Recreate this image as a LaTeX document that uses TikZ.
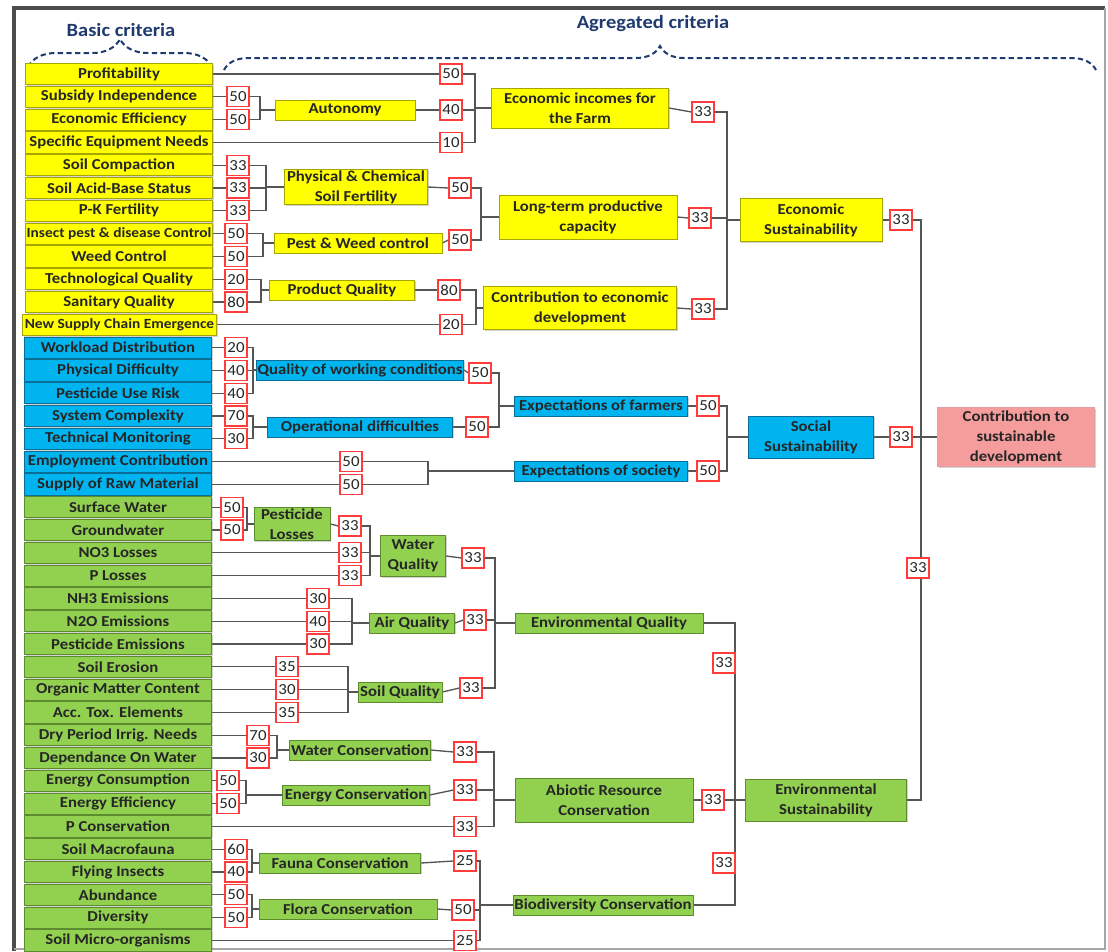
\documentclass[tikz,border=0pt]{standalone}
\usepackage{fontspec}
\setmainfont{Carlito}[FakeStretch=1.1]
\usetikzlibrary{positioning,decorations.pathreplacing,shadows,backgrounds}
\definecolor{critY}{HTML}{FFFF00}
\definecolor{critYd}{HTML}{A6A600}
\definecolor{critB}{HTML}{00B4F0}
\definecolor{critBd}{HTML}{0A6E96}
\definecolor{critG}{HTML}{92D050}
\definecolor{critGd}{HTML}{5C8C2E}
\definecolor{critP}{HTML}{F59C9C}
\definecolor{critPd}{HTML}{E2A0A0}
\definecolor{wred}{HTML}{FF3B3B}
\definecolor{linegray}{HTML}{555555}
\definecolor{navy}{HTML}{1F3A6E}
\tikzset{critbox/.style={rectangle,draw,line width=0.6pt,inner sep=1pt,minimum height=15pt,align=center,
                         font=\fontsize{11.4}{15}\selectfont\bfseries,text=black!85,
                         drop shadow={shadow xshift=1pt,shadow yshift=-1pt,opacity=0.35}},
         ybox/.style={critbox,fill=critY,draw=critYd},
         bbox/.style={critbox,fill=critB,draw=critBd},
         gbox/.style={critbox,fill=critG,draw=critGd},
         pbox/.style={critbox,fill=critP,draw=critPd},
         basic/.style={minimum width=140pt,minimum height=16pt},
         tight/.style={font=\fontsize{10.5}{15}\selectfont\bfseries},
         wt/.style={rectangle,draw=wred,fill=white,line width=0.8pt,minimum width=16.5pt,minimum height=15pt,
                    inner sep=0pt,font=\fontsize{11.5}{11.5}\selectfont,text=black!85},
         link/.style={draw=linegray,line width=1pt},
         hdr/.style={font=\fontsize{14}{16}\selectfont\bfseries,text=navy},
         hbrace/.style={draw=navy,line width=1.5pt,dash pattern=on 4pt off 2.5pt,decorate},
}
\begin{document}
\begin{tikzpicture}[x=0.75pt,y=-0.75pt]

\useasboundingbox (0,0) rectangle (1108,951);

% frame
\draw[gray!60!black,line width=2.5pt] (14,951) -- (14,8) -- (1105,8);
\draw[gray!70,line width=0.8pt] (1105,8) -- (1105,949) -- (14,949);

% headers
\node[hdr] (h_basic) at (121,30) {Basic criteria};
\node[hdr] (h_agg) at (653,24) {Agregated criteria};
\draw[hbrace,decoration={brace,amplitude=21pt}] (28,67) -- (212,67);
\draw[hbrace,decoration={brace,amplitude=18pt}] (224,70) -- (1096,70);

% basic criteria
\node[ybox,basic] (b_0) at (119,74) {Profitability};
\node[ybox,basic] (b_1) at (119,96.8) {Subsidy Independence};
\node[ybox,basic] (b_2) at (119,119.6) {Economic Efficiency};
\node[ybox,basic] (b_3) at (119,142.4) {Specific Equipment Needs};
\node[ybox,basic] (b_4) at (119,165.2) {Soil Compaction};
\node[ybox,basic] (b_5) at (119,188) {Soil Acid-Base Status};
\node[ybox,basic] (b_6) at (119,210.8) {P-K Fertility};
\node[ybox,basic,tight] (b_7) at (119,233.6) {Insect pest \& disease Control};
\node[ybox,basic] (b_8) at (119,256.4) {Weed Control};
\node[ybox,basic] (b_9) at (119,279.2) {Technological Quality};
\node[ybox,basic] (b_10) at (119,302) {Sanitary Quality};
\node[ybox,basic,tight,minimum width=146pt] (b_11) at (119.5,324.8) {New Supply Chain Emergence};
\node[bbox,basic] (b_12) at (118,347.6) {Workload Distribution};
\node[bbox,basic] (b_13) at (118,370.4) {Physical Difficulty};
\node[bbox,basic] (b_14) at (118,393.2) {Pesticide Use Risk};
\node[bbox,basic] (b_15) at (118,416) {System Complexity};
\node[bbox,basic] (b_16) at (118,438.8) {Technical Monitoring};
\node[bbox,basic] (b_17) at (118,461.6) {Employment Contribution};
\node[bbox,basic] (b_18) at (118,484.4) {Supply of Raw Material};
\node[gbox,basic] (b_19) at (118,507.2) {Surface Water};
\node[gbox,basic] (b_20) at (118,530) {Groundwater};
\node[gbox,basic] (b_21) at (118,552.8) {NO3 Losses};
\node[gbox,basic] (b_22) at (118,575.6) {P Losses};
\node[gbox,basic] (b_23) at (118,598.4) {NH3 Emissions};
\node[gbox,basic] (b_24) at (118,621.2) {N2O Emissions};
\node[gbox,basic] (b_25) at (118,644) {Pesticide Emissions};
\node[gbox,basic] (b_26) at (118,666.8) {Soil Erosion};
\node[gbox,basic] (b_27) at (118,689.6) {Organic Matter Content};
\node[gbox,basic] (b_28) at (118,712.4) {Acc. Tox. Elements};
\node[gbox,basic] (b_29) at (118,735.2) {Dry Period Irrig. Needs};
\node[gbox,basic] (b_30) at (118,758) {Dependance On Water};
\node[gbox,basic] (b_31) at (118,780.8) {Energy Consumption};
\node[gbox,basic] (b_32) at (118,803.6) {Energy Efficiency};
\node[gbox,basic] (b_33) at (118,826.4) {P Conservation};
\node[gbox,basic] (b_34) at (118,849.2) {Soil Macrofauna};
\node[gbox,basic] (b_35) at (118,872) {Flying Insects};
\node[gbox,basic] (b_36) at (118,894.8) {Abundance};
\node[gbox,basic] (b_37) at (118,917.6) {Diversity};
\node[gbox,basic] (b_38) at (118,940.4) {Soil Micro-organisms};

% weights of basic criteria
\node[wt] (wb_0) at (451,74) {50};
\node[wt] (wb_1) at (238,96.8) {50};
\node[wt] (wb_2) at (238,119.6) {50};
\node[wt] (wb_3) at (451,142.4) {10};
\node[wt] (wb_4) at (238,165.2) {33};
\node[wt] (wb_5) at (238,188) {33};
\node[wt] (wb_6) at (238,210.8) {33};
\node[wt] (wb_7) at (236,233.6) {50};
\node[wt] (wb_8) at (236,256.4) {50};
\node[wt] (wb_9) at (236,279.2) {20};
\node[wt] (wb_10) at (236,302) {80};
\node[wt] (wb_11) at (451,324.8) {20};
\node[wt] (wb_12) at (236,347.6) {20};
\node[wt] (wb_13) at (236,370.4) {40};
\node[wt] (wb_14) at (236,393.2) {40};
\node[wt] (wb_15) at (236,416) {70};
\node[wt] (wb_16) at (236,438.8) {30};
\node[wt] (wb_17) at (351,461.6) {50};
\node[wt] (wb_18) at (351,484.4) {50};
\node[wt] (wb_19) at (232,507.2) {50};
\node[wt] (wb_20) at (232,530) {50};
\node[wt] (wb_21) at (350,552.8) {33};
\node[wt] (wb_22) at (350,575.6) {33};
\node[wt] (wb_23) at (318,598.4) {30};
\node[wt] (wb_24) at (318,621.2) {40};
\node[wt] (wb_25) at (318,644) {30};
\node[wt] (wb_26) at (287,666.8) {35};
\node[wt] (wb_27) at (287,689.6) {30};
\node[wt] (wb_28) at (287,712.4) {35};
\node[wt] (wb_29) at (258,735.2) {70};
\node[wt] (wb_30) at (258,758) {30};
\node[wt] (wb_31) at (228,780.8) {50};
\node[wt] (wb_32) at (228,803.6) {50};
\node[wt] (wb_33) at (465,826.4) {33};
\node[wt] (wb_34) at (236,849.2) {60};
\node[wt] (wb_35) at (236,872) {40};
\node[wt] (wb_36) at (236,894.8) {50};
\node[wt] (wb_37) at (236,917.6) {50};
\node[wt] (wb_38) at (465,940.4) {25};

% first aggregation
\node[ybox,minimum width=105pt] (autonomy) at (345,110) {Autonomy};
\node[ybox,minimum width=107pt] (fertility) at (356,187) {Physical \& Chemical\\Soil Fertility};
\node[ybox,minimum width=126pt] (pestweed) at (358,243) {Pest \& Weed control};
\node[ybox,minimum width=109pt] (product) at (342,290) {Product Quality};
\node[bbox,minimum width=154pt] (workcond) at (360,370) {Quality of working conditions};
\node[bbox,minimum width=139pt] (operdiff) at (360,427) {Operational difficulties};
\node[gbox,minimum width=57pt] (pestloss) at (292,524) {Pesticide\\Losses};
\node[gbox,minimum width=105pt] (waterc) at (360,750) {Water Conservation};
\node[gbox,minimum width=110pt] (energyc) at (356,795) {Energy Conservation};
\node[gbox,minimum width=121pt] (fauna) at (340,863) {Fauna Conservation};
\node[gbox,minimum width=133.5pt] (flora) at (348,909) {Flora Conservation};

\node[wt] (w_autonomy) at (451,110) {40};
\node[wt] (w_fertility) at (460,188) {50};
\node[wt] (w_pestweed) at (460,240) {50};
\node[wt] (w_product) at (449,290) {80};
\node[wt] (w_workcond) at (480,373) {50};
\node[wt] (w_operdiff) at (477,427) {50};
\node[wt] (w_pestloss) at (350,526) {33};
\node[wt] (w_waterc) at (465,752) {33};
\node[wt] (w_energyc) at (465,790) {33};
\node[wt] (w_fauna) at (465,861) {25};
\node[wt] (w_flora) at (463,910) {50};

% second aggregation
\node[ybox,minimum width=133pt,minimum height=30pt] (incomes) at (580,108) {Economic incomes for\\the Farm};
\node[ybox,minimum width=133.5pt,minimum height=33pt] (longterm) at (588,217) {Long-term productive\\capacity};
\node[ybox,minimum width=145pt,minimum height=32pt] (econdev) at (580,308) {Contribution to economic\\development};
\node[bbox,minimum width=130pt] (farmers) at (601,406) {Expectations of farmers};
\node[bbox,minimum width=130pt] (society) at (601,471) {Expectations of society};
\node[gbox,minimum width=49pt,minimum height=31pt] (waterq) at (413,556) {Water\\Quality};
\node[gbox,minimum width=64pt] (airq) at (412,623) {Air Quality};
\node[gbox,minimum width=63pt] (soilq) at (400,692) {Soil Quality};
\node[gbox,minimum width=141pt] (envq) at (609,623) {Environmental Quality};
\node[gbox,minimum width=133.5pt,minimum height=33pt] (abiotic) at (604,800) {Abiotic Resource\\Conservation};
\node[gbox,minimum width=133pt] (biodiv) at (603,905) {Biodiversity Conservation};

\node[wt] (w_incomes) at (703,112) {33};
\node[wt] (w_longterm) at (700,218) {33};
\node[wt] (w_econdev) at (703,309) {33};
\node[wt] (w_farmers) at (708,406) {50};
\node[wt] (w_society) at (708,471) {50};
\node[wt] (w_waterq) at (473,558) {33};
\node[wt] (w_airq) at (475,620) {33};
\node[wt] (w_soilq) at (471,688) {33};
\node[wt] (w_envq) at (724,663) {33};
\node[wt] (w_abiotic) at (713,800) {33};
\node[wt] (w_biodiv) at (724,863) {33};

% pillars
\node[ybox,minimum width=106.5pt,minimum height=32pt] (ecos) at (811,220) {Economic\\Sustainability};
\node[bbox,minimum width=94pt,minimum height=31.5pt] (socs) at (811,437) {Social\\Sustainability};
\node[gbox,minimum width=121pt,minimum height=31.5pt] (envs) at (826,800) {Environmental\\Sustainability};
\node[wt] (w_ecos) at (901,220) {33};
\node[wt] (w_socs) at (901,437) {33};
\node[wt] (w_envs) at (918,568) {33};

\node[pbox,minimum width=118pt,minimum height=44pt] (susdev) at (1016,437) {Contribution to\\sustainable\\development};

% bracket points
\coordinate (s_autonomy) at (260,110);
\coordinate (s_fertility) at (266,187);
\coordinate (s_pestweed) at (263,243);
\coordinate (s_product) at (261,290);
\coordinate (s_workcond) at (253,370);
\coordinate (s_operdiff) at (253,427);
\coordinate (s_pestloss) at (247,524);
\coordinate (s_waterc) at (277,750);
\coordinate (s_energyc) at (246,795);
\coordinate (s_fauna) at (252,863);
\coordinate (s_flora) at (252,909);
\coordinate (s_incomes) at (475,108);
\coordinate (s_longterm) at (481,217);
\coordinate (s_econdev) at (476,308);
\coordinate (s_farmers) at (499,406);
\coordinate (s_society) at (428,471);
\coordinate (s_waterq) at (370,556);
\coordinate (s_airq) at (352,623);
\coordinate (s_soilq) at (348,692);
\coordinate (s_envq) at (495,623);
\coordinate (s_abiotic) at (494,800);
\coordinate (s_biodiv) at (480,905);
\coordinate (s_ecos) at (727,220);
\coordinate (s_socs) at (727,437);
\coordinate (s_envs) at (735,800);
\coordinate (s_susdev) at (921,437);

\begin{pgfonlayer}{background}
% basic criteria to their weights
\draw[link] (b_0.east) -- (wb_0.west);
\draw[link] (b_1.east) -- (wb_1.west);
\draw[link] (b_2.east) -- (wb_2.west);
\draw[link] (b_3.east) -- (wb_3.west);
\draw[link] (b_4.east) -- (wb_4.west);
\draw[link] (b_5.east) -- (wb_5.west);
\draw[link] (b_6.east) -- (wb_6.west);
\draw[link] (b_7.east) -- (wb_7.west);
\draw[link] (b_8.east) -- (wb_8.west);
\draw[link] (b_9.east) -- (wb_9.west);
\draw[link] (b_10.east) -- (wb_10.west);
\draw[link] (b_11.east) -- (wb_11.west);
\draw[link] (b_12.east) -- (wb_12.west);
\draw[link] (b_13.east) -- (wb_13.west);
\draw[link] (b_14.east) -- (wb_14.west);
\draw[link] (b_15.east) -- (wb_15.west);
\draw[link] (b_16.east) -- (wb_16.west);
\draw[link] (b_17.east) -- (wb_17.west);
\draw[link] (b_18.east) -- (wb_18.west);
\draw[link] (b_19.east) -- (wb_19.west);
\draw[link] (b_20.east) -- (wb_20.west);
\draw[link] (b_21.east) -- (wb_21.west);
\draw[link] (b_22.east) -- (wb_22.west);
\draw[link] (b_23.east) -- (wb_23.west);
\draw[link] (b_24.east) -- (wb_24.west);
\draw[link] (b_25.east) -- (wb_25.west);
\draw[link] (b_26.east) -- (wb_26.west);
\draw[link] (b_27.east) -- (wb_27.west);
\draw[link] (b_28.east) -- (wb_28.west);
\draw[link] (b_29.east) -- (wb_29.west);
\draw[link] (b_30.east) -- (wb_30.west);
\draw[link] (b_31.east) -- (wb_31.west);
\draw[link] (b_32.east) -- (wb_32.west);
\draw[link] (b_33.east) -- (wb_33.west);
\draw[link] (b_34.east) -- (wb_34.west);
\draw[link] (b_35.east) -- (wb_35.west);
\draw[link] (b_36.east) -- (wb_36.west);
\draw[link] (b_37.east) -- (wb_37.west);
\draw[link] (b_38.east) -- (wb_38.west);

% first aggregation
\draw[link] (wb_1.east) -| (s_autonomy) -- (autonomy.west);
\draw[link] (wb_2.east) -| (s_autonomy);
\draw[link] (wb_4.east) -| (s_fertility) -- (fertility.west);
\draw[link] (wb_5.east) -| (s_fertility);
\draw[link] (wb_6.east) -| (s_fertility);
\draw[link] (wb_7.east) -| (s_pestweed) -- (pestweed.west);
\draw[link] (wb_8.east) -| (s_pestweed);
\draw[link] (wb_9.east) -| (s_product) -- (product.west);
\draw[link] (wb_10.east) -| (s_product);
\draw[link] (wb_12.east) -| (s_workcond) -- (workcond.west);
\draw[link] (wb_13.east) -| (s_workcond);
\draw[link] (wb_14.east) -| (s_workcond);
\draw[link] (wb_15.east) -| (s_operdiff) -- (operdiff.west);
\draw[link] (wb_16.east) -| (s_operdiff);
\draw[link] (wb_19.east) -| (s_pestloss) -- (pestloss.west);
\draw[link] (wb_20.east) -| (s_pestloss);
\draw[link] (wb_29.east) -| (s_waterc) -- (waterc.west);
\draw[link] (wb_30.east) -| (s_waterc);
\draw[link] (wb_31.east) -| (s_energyc) -- (energyc.west);
\draw[link] (wb_32.east) -| (s_energyc);
\draw[link] (wb_34.east) -| (s_fauna) -- (fauna.west);
\draw[link] (wb_35.east) -| (s_fauna);
\draw[link] (wb_36.east) -| (s_flora) -- (flora.west);
\draw[link] (wb_37.east) -| (s_flora);

\draw[link] (autonomy.east) -- (w_autonomy.west);
\draw[link] (fertility.east) -- (w_fertility.west);
\draw[link] (pestweed.east) -- (w_pestweed.west);
\draw[link] (product.east) -- (w_product.west);
\draw[link] (workcond.east) -- (w_workcond.west);
\draw[link] (operdiff.east) -- (w_operdiff.west);
\draw[link] (pestloss.east) -- (w_pestloss.west);
\draw[link] (waterc.east) -- (w_waterc.west);
\draw[link] (energyc.east) -- (w_energyc.west);
\draw[link] (fauna.east) -- (w_fauna.west);
\draw[link] (flora.east) -- (w_flora.west);

% second aggregation
\draw[link] (wb_0.east) -| (s_incomes) -- (incomes.west);
\draw[link] (w_autonomy.east) -| (s_incomes);
\draw[link] (wb_3.east) -| (s_incomes);
\draw[link] (w_fertility.east) -| (s_longterm) -- (longterm.west);
\draw[link] (w_pestweed.east) -| (s_longterm);
\draw[link] (w_product.east) -| (s_econdev) -- (econdev.west);
\draw[link] (wb_11.east) -| (s_econdev);
\draw[link] (w_workcond.east) -| (s_farmers) -- (farmers.west);
\draw[link] (w_operdiff.east) -| (s_farmers);
\draw[link] (wb_17.east) -| (s_society) -- (society.west);
\draw[link] (wb_18.east) -| (s_society);
\draw[link] (w_pestloss.east) -| (s_waterq) -- (waterq.west);
\draw[link] (wb_21.east) -| (s_waterq);
\draw[link] (wb_22.east) -| (s_waterq);
\draw[link] (wb_23.east) -| (s_airq) -- (airq.west);
\draw[link] (wb_24.east) -| (s_airq);
\draw[link] (wb_25.east) -| (s_airq);
\draw[link] (wb_26.east) -| (s_soilq) -- (soilq.west);
\draw[link] (wb_27.east) -| (s_soilq);
\draw[link] (wb_28.east) -| (s_soilq);
\draw[link] (w_waterc.east) -| (s_abiotic) -- (abiotic.west);
\draw[link] (w_energyc.east) -| (s_abiotic);
\draw[link] (wb_33.east) -| (s_abiotic);
\draw[link] (w_fauna.east) -| (s_biodiv) -- (biodiv.west);
\draw[link] (w_flora.east) -| (s_biodiv);
\draw[link] (wb_38.east) -| (s_biodiv);

\draw[link] (incomes.east) -- (w_incomes.west);
\draw[link] (longterm.east) -- (w_longterm.west);
\draw[link] (econdev.east) -- (w_econdev.west);
\draw[link] (farmers.east) -- (w_farmers.west);
\draw[link] (society.east) -- (w_society.west);
\draw[link] (waterq.east) -- (w_waterq.west);
\draw[link] (airq.east) -- (w_airq.west);
\draw[link] (soilq.east) -- (w_soilq.west);
\draw[link] (w_waterq.east) -| (s_envq) -- (envq.west);
\draw[link] (w_airq.east) -| (s_envq);
\draw[link] (w_soilq.east) -| (s_envq);
\draw[link] (abiotic.east) -- (w_abiotic.west);

% pillars
\draw[link] (w_incomes.east) -| (s_ecos) -- (ecos.west);
\draw[link] (w_longterm.east) -| (s_ecos);
\draw[link] (w_econdev.east) -| (s_ecos);
\draw[link] (w_farmers.east) -| (s_socs) -- (socs.west);
\draw[link] (w_society.east) -| (s_socs);
\draw[link] (envq.east) -| (s_envs) -- (envs.west);
\draw[link] (w_abiotic.east) -- (s_envs);
\draw[link] (biodiv.east) -| (s_envs);

% top
\draw[link] (ecos.east) -- (w_ecos.west);
\draw[link] (socs.east) -- (w_socs.west);
\draw[link] (w_ecos.east) -| (s_susdev) -- (susdev.west);
\draw[link] (w_socs.east) -- (s_susdev);
\draw[link] (envs.east) -| (s_susdev);
\end{pgfonlayer}

\end{tikzpicture}
\end{document}
